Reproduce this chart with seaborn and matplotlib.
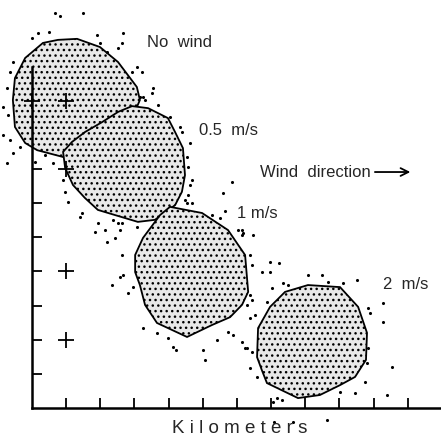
import matplotlib
matplotlib.use("Agg")
import matplotlib.pyplot as plt
import seaborn as sns

# hull outlines of the particle clouds (km)
nowind_x = [0.76, 1.32, 1.99, 2.52, 3.07, 3.16, 3.07, 2.58, 0.91, 0.15, -0.20, -0.50, -0.56, -0.50, -0.20, 0.32]
nowind_y = [10.78, 10.81, 10.57, 10.13, 9.40, 9.02, 8.81, 7.85, 7.35, 7.55, 7.76, 8.23, 9.02, 9.66, 10.25, 10.69]

half_x = [2.93, 3.40, 3.98, 4.19, 4.42, 4.48, 4.39, 4.19, 3.60, 3.10, 2.43, 1.93, 1.55, 1.20, 0.97, 0.91, 1.17, 1.55, 2.05, 2.52]
half_y = [8.84, 8.78, 8.49, 8.08, 7.61, 6.82, 6.33, 5.94, 5.51, 5.45, 5.65, 5.80, 6.15, 6.53, 7.03, 7.50, 7.79, 8.08, 8.37, 8.67]

one_x = [4.04, 4.98, 5.74, 6.24, 6.33, 6.15, 5.80, 5.27, 4.54, 3.66, 3.31, 3.16, 3.02, 3.02, 3.25, 3.75]
one_y = [5.89, 5.71, 5.21, 4.48, 3.40, 3.02, 2.66, 2.43, 2.08, 2.49, 3.02, 3.60, 3.98, 4.48, 4.98, 5.65]

two_x = [7.41, 8.08, 9.02, 9.55, 9.81, 9.78, 9.46, 9.02, 8.43, 7.79, 6.88, 6.73, 6.59, 6.62, 6.97]
two_y = [3.40, 3.60, 3.54, 2.96, 2.20, 1.41, 0.91, 0.67, 0.38, 0.29, 0.73, 1.11, 1.49, 2.34, 2.96]

# particles lying outside the hulls (km)
out_x = [0.67, 0.82, 1.49, 0.00, 0.18, 0.50, 1.90, 2.66, 2.64, 2.52, 1.99, 2.20, 3.07, 3.22, 2.93,
         3.54, 3.51, 3.25, -0.56, -0.64, -0.73, -0.85, -0.70, -0.85, -0.64, -0.56, -0.35, -0.73,
         0.38, 0.61, 0.09,
         3.16, 3.31, 3.69, 4.04, 4.33, 4.39, 4.63, 4.54, 4.57, 4.69, 4.63, 4.57, 4.54, 0.91, 1.05,
         0.97, 1.46, 1.41, 1.93, 2.37, 2.52, 1.84, 2.14, 2.58, 3.07, 5.86, 5.59, 5.65,
         2.64, 4.48, 4.69, 5.27, 5.51, 6.15, 6.18, 6.38, 6.44, 6.38, 6.44, 6.30, 2.81, 2.66, 3.25,
         3.66, 3.98, 4.13, 4.22, 5.01, 5.07, 5.42, 5.74, 6.15, 6.30, 6.44, 2.20, 2.43, 2.64, 2.58,
         2.34, 2.96,
         6.03, 6.15, 6.47, 6.97, 7.23, 6.73, 6.97, 7.03, 7.35, 7.50, 8.08, 8.49, 8.67, 9.11, 9.52,
         6.88, 6.53, 6.38, 5.89, 6.24, 6.38, 6.59, 7.17, 7.32, 7.06, 9.84, 9.90, 10.28, 10.28, 9.84,
         9.81, 9.75, 9.46, 10.40, 9.02, 10.54, 8.64, 7.09, 7.64]
out_y = [11.57, 11.48, 11.57, 10.83, 10.98, 11.01, 10.92, 10.98, 10.69, 10.54, 10.69, 10.42, 9.99,
         9.84, 9.84, 9.37, 9.22, 9.11, 10.13, 9.84, 9.37, 8.81, 8.58, 7.99, 7.85, 7.47, 7.64, 7.17,
         7.41, 7.17, 7.20,
         9.11, 9.02, 8.87, 8.52, 8.23, 8.08, 7.76, 7.35, 7.06, 6.68, 6.53, 6.24, 6.00, 6.68, 6.03,
         6.33, 5.71, 5.59, 5.42, 5.51, 5.42, 5.15, 5.21, 5.21, 5.30, 6.62, 6.30, 5.77,
         5.42, 6.09, 6.00, 5.65, 5.56, 5.21, 5.12, 4.48, 4.19, 3.31, 3.16, 3.02, 3.37, 3.89, 2.34,
         2.20, 2.05, 1.79, 1.70, 1.70, 1.41, 1.99, 2.23, 1.93, 1.76, 1.64, 4.86, 4.98, 4.48, 3.84,
         3.60, 3.54,
         5.21, 5.07, 5.07, 4.28, 4.25, 3.98, 3.98, 3.51, 3.66, 3.60, 3.89, 3.89, 3.69, 3.66, 3.75,
         3.10, 2.72, 2.64, 2.14, 1.76, 1.17, 0.91, 0.29, 0.23, 0.18, 2.93, 2.78, 3.07, 2.52, 1.76,
         1.32, 0.76, 0.44, 0.38, 0.47, 1.20, -0.35, -0.41, -0.41]

# release points
plus_x = [1, 1, 1, 1, 0]
plus_y = [9, 7, 4, 2, 9]

labels = ["No  wind", "0.5  m/s", "1 m/s", "2  m/s"]
label_x = [3.37, 4.89, 6.00, 10.28]
label_y = [10.69, 8.14, 5.71, 3.63]

sns.set_theme(style="white")
plt.rcParams["font.family"] = ["Liberation Sans", "DejaVu Sans"]
plt.rcParams["hatch.linewidth"] = 1.0

fig = plt.figure(figsize=(4.41, 4.38), dpi=100)
ax = fig.add_axes([0, 0, 1, 1])

for hx, hy in [(nowind_x, nowind_y), (half_x, half_y), (one_x, one_y), (two_x, two_y)]:
    ax.fill(hx, hy, facecolor="#e8e8e8", edgecolor="black", hatch="...", linewidth=0)
    ax.fill(hx, hy, facecolor="none", edgecolor="black", linewidth=1.3)

sns.scatterplot(x=out_x, y=out_y, ax=ax, s=5, color="black", linewidth=0, marker="o")
sns.scatterplot(x=plus_x, y=plus_y, ax=ax, s=120, color="black", linewidth=1.3, marker="+")

for t, lx, ly in zip(labels, label_x, label_y):
    ax.text(lx, ly, t, fontsize=12, ha="left", va="center")

ax.text(6.68, 6.91, "Wind  direction", fontsize=12, ha="left", va="center")
ax.annotate("", xy=(11.16, 6.91), xytext=(9.96, 6.91),
            arrowprops=dict(arrowstyle="->", lw=1.3, color="black", mutation_scale=14))
ax.text(6.09, -0.59, "K i l o m e t e r s", fontsize=13.5, ha="center", va="center")

ax.set_xlim(-32 / 34.15, 409 / 34.15)
ax.set_ylim(-30 / 34.15, 408 / 34.15)
ax.spines["left"].set_position(("data", 0))
ax.spines["bottom"].set_position(("data", 0))
ax.spines["left"].set_bounds(0, 10)
ax.spines["bottom"].set_bounds(0, 409 / 34.15)
for side in ["left", "bottom"]:
    ax.spines[side].set_linewidth(1.8)
    ax.spines[side].set_color("black")
ax.spines["top"].set_visible(False)
ax.spines["right"].set_visible(False)
ax.set_xticks(range(1, 12))
ax.set_yticks(range(1, 11))
ax.tick_params(direction="in", length=7, width=1.3, color="black",
               labelbottom=False, labelleft=False, bottom=True, left=True)
ax.patch.set_alpha(0)

fig.savefig("out.png", dpi=100)
